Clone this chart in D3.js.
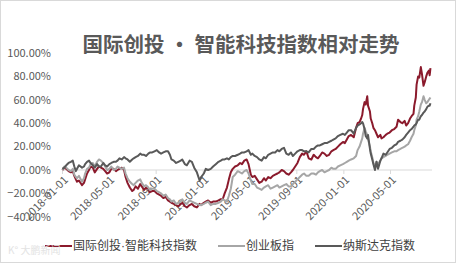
<!DOCTYPE html>
<html>
<head>
<meta charset="utf-8">
<script src="https://cdn.jsdelivr.net/npm/d3@7"></script>
<style>
  body { margin: 0; background: #fff; }
  text { font-family: "Noto Sans CJK SC", "Noto Sans", sans-serif; }
</style>
</head>
<body>
<div class="chartContainer"></div>
<script>
// Dates of the sampled points
const dates = [
  "2018-01-02","2018-01-07","2018-01-12","2018-01-18","2018-01-24","2018-01-29","2018-02-02","2018-02-06","2018-02-09","2018-02-14",
  "2018-02-22","2018-02-27","2018-03-02","2018-03-07","2018-03-12","2018-03-16","2018-03-22","2018-03-27","2018-04-02","2018-04-07",
  "2018-04-12","2018-04-18","2018-04-23","2018-04-28","2018-05-04","2018-05-09","2018-05-15","2018-05-21","2018-05-25","2018-05-30",
  "2018-06-05","2018-06-11","2018-06-15","2018-06-20","2018-06-26","2018-07-02","2018-07-06","2018-07-11","2018-07-17","2018-07-23",
  "2018-07-27","2018-08-02","2018-08-07","2018-08-13","2018-08-17","2018-08-23","2018-08-29","2018-09-04","2018-09-10","2018-09-15",
  "2018-09-21","2018-09-27","2018-10-03","2018-10-08","2018-10-12","2018-10-18","2018-10-24","2018-10-30","2018-11-05","2018-11-09",
  "2018-11-16","2018-11-21","2018-11-28","2018-12-04","2018-12-10","2018-12-17","2018-12-24","2018-12-28","2019-01-04","2019-01-09",
  "2019-01-15","2019-01-22","2019-01-28","2019-02-04","2019-02-11","2019-02-17","2019-02-22","2019-02-27","2019-03-05","2019-03-10",
  "2019-03-15","2019-03-20","2019-03-26","2019-04-02","2019-04-08","2019-04-13","2019-04-19","2019-04-25","2019-04-30","2019-05-06",
  "2019-05-10","2019-05-16","2019-05-22","2019-05-28","2019-06-03","2019-06-09","2019-06-14","2019-06-20","2019-06-26","2019-07-02",
  "2019-07-08","2019-07-14","2019-07-19","2019-07-25","2019-07-31","2019-08-06","2019-08-12","2019-08-18","2019-08-23","2019-08-29",
  "2019-09-04","2019-09-10","2019-09-16","2019-09-21","2019-09-27","2019-10-03","2019-10-10","2019-10-16","2019-10-22","2019-10-27",
  "2019-11-01","2019-11-07","2019-11-13","2019-11-19","2019-11-25","2019-12-01","2019-12-06","2019-12-12","2019-12-18","2019-12-24",
  "2019-12-31","2020-01-05","2020-01-10","2020-01-15","2020-01-21","2020-01-28","2020-02-03","2020-02-07","2020-02-12","2020-02-16",
  "2020-02-19","2020-02-21","2020-02-25","2020-02-28","2020-03-03","2020-03-05","2020-03-10","2020-03-12","2020-03-16","2020-03-19",
  "2020-03-23","2020-03-27","2020-03-31","2020-04-06","2020-04-09","2020-04-14","2020-04-20","2020-04-24","2020-04-30","2020-05-06",
  "2020-05-12","2020-05-18","2020-05-22","2020-05-28","2020-06-02","2020-06-08","2020-06-12","2020-06-17","2020-06-22","2020-06-26",
  "2020-07-01","2020-07-03","2020-07-07","2020-07-09","2020-07-13","2020-07-16","2020-07-20","2020-07-23","2020-07-27","2020-07-30",
  "2020-08-03","2020-08-06","2020-08-10","2020-08-12","2020-08-14"
];
// 国际创投·智能科技指数 (%)
const techIndex = [
  0, 2, 1, -1, -2, -1, -5, -8, -10, -9, -13, -11, -8, -3, 0, 3, 2, -2, 1, 3,
  2, 1, -1, -3, -2, 1, 1, -1, 0, 1, 2, 0, -6, -11, -15, -18, -17, -14, -16, -12,
  -14, -17, -15, -16, -19, -18, -18, -20, -21, -22, -24, -23, -26, -27, -28, -29, -30, -31, -29, -28,
  -31, -32, -30, -29, -31, -32, -29, -30, -28, -27, -26, -28, -27, -27, -26, -25, -25, -20, -15, -8,
  -2, 1, 3, 4, 6, 5, 8, 9, 5, -4, -6, -5, -8, -11, -10, -7, -9, -6, -7, -5,
  -4, -3, -2, 0, -1, -3, -4, -2, 0, 3, 6, 11, 14, 13, 16, 10, 9, 13, 11, 10,
  12, 15, 14, 12, 13, 16, 17, 18, 20, 22, 24, 23, 26, 29, 30, 28, 36, 40, 41, 44,
  47, 52, 58, 56, 63, 55, 50, 44, 40, 36, 34, 31, 28, 30, 27, 28, 30, 31, 32, 34,
  35, 37, 43, 41, 40, 42, 38, 40, 44, 46, 48, 55, 62, 73, 80, 79, 88, 82, 72, 75,
  80, 83, 85, 81, 87
];
// 创业板指 (%)
const chinext = [
  0, 3, 2, 0, -1, 1, -4, -6, -7, -5, -10, -7, -3, 1, 2, 5, 6, 3, 7, 9,
  8, 6, 3, 0, 1, 3, 0, 1, 3, 2, 1, 2, -3, -7, -10, -12, -13, -11, -9, -8,
  -11, -14, -13, -15, -17, -16, -16, -18, -19, -20, -22, -21, -24, -25, -27, -26, -29, -28, -27, -25,
  -28, -29, -26, -27, -28, -29, -30, -30, -29, -28, -27, -30, -29, -29, -28, -27, -25, -26, -27, -22,
  -16, -6, -4, -1, -2, -3, -1, 0, -3, -9, -12, -12, -15, -16, -17, -15, -14, -13, -16, -15,
  -14, -13, -15, -14, -13, -12, -14, -14, -12, -10, -8, -6, -4, -3, -5, -5, -3, -3, -4, -2,
  -1, 0, -2, -1, 0, 2, 1, 1, 3, 4, 5, 6, 7, 8, 9, 10, 12, 17, 20, 24,
  27, 31, 36, 33, 30, 26, 20, 16, 11, 6, 3, 7, 5, 8, 10, 11, 12, 13, 14, 15,
  16, 16, 17, 18, 19, 20, 21, 22, 25, 28, 31, 34, 38, 43, 46, 50, 56, 58, 63, 60,
  57, 58, 60, 61, 62
];
// 纳斯达克指数 (%)
const nasdaq = [
  1, 2, 4, 6, 7, 8, 3, -1, 1, 4, 2, 3, 5, 7, 8, 6, 4, 2, 5, 3,
  3, 6, 4, 3, 5, 6, 7, 7, 8, 10, 9, 11, 10, 9, 7, 9, 10, 11, 12, 14,
  13, 13, 12, 14, 15, 15, 16, 17, 15, 14, 15, 16, 16, 13, 9, 8, 6, 7, 8, 9,
  5, 4, 8, 7, 2, -2, -9, -6, -3, 1, 0, 1, 3, 5, 7, 8, 9, 9, 10, 9,
  11, 12, 12, 13, 14, 15, 15, 16, 17, 13, 14, 12, 11, 9, 8, 11, 10, 13, 14, 15,
  15, 17, 16, 18, 19, 14, 13, 15, 12, 14, 16, 17, 17, 16, 16, 15, 18, 18, 20, 21,
  21, 22, 23, 23, 24, 25, 26, 27, 29, 30, 31, 30, 32, 34, 34, 31, 36, 38, 39, 40,
  41, 40, 35, 29, 27, 30, 18, 14, 9, 5, 0, 7, 1, 8, 10, 14, 13, 15, 18, 19,
  21, 22, 24, 25, 26, 28, 30, 32, 34, 35, 37, 38, 39, 40, 43, 43, 46, 47, 49, 50,
  52, 54, 55, 55, 57
];
const seriesNames = ["国际创投·智能科技指数", "创业板指", "纳斯达克指数"];
const seriesColors = ["#8B1A2C", "#A6A6A6", "#595959"];
const yTicks = [-40, -20, 0, 20, 40, 60, 80, 100];
const xTicks = ["2018-01-01","2018-05-01","2018-09-01","2019-01-01","2019-05-01","2019-09-01","2020-01-01","2020-05-01"];

const parse = d3.timeParse("%Y-%m-%d");
const width = 457, height = 266;

const svg = d3.select(".chartContainer")
  .append("svg")
  .attr("width", width)
  .attr("height", height);

// Outer border
svg.append("rect")
  .attr("x", 0.5).attr("y", 0.5)
  .attr("width", 455).attr("height", 262)
  .attr("fill", "#fff")
  .attr("stroke", "#D9D9D9");

const x = d3.scaleTime()
  .domain([parse("2018-01-01"), parse("2020-08-18")])
  .range([62, 432]);
const y = d3.scaleLinear()
  .domain([-40, 100])
  .range([216.8, 53]);

// Title
svg.append("text")
  .attr("x", 241).attr("y", 52)
  .attr("text-anchor", "middle")
  .attr("font-size", 20.5)
  .attr("font-weight", "bold")
  .attr("fill", "#595959")
  .text("国际创投 · 智能科技指数相对走势");

// Y labels
svg.selectAll(".ylab")
  .data(yTicks)
  .enter()
  .append("text")
  .attr("class", "ylab")
  .attr("x", 51)
  .attr("y", d => y(d))
  .attr("dy", "0.35em")
  .attr("text-anchor", "end")
  .attr("font-size", 11)
  .attr("fill", "#595959")
  .text(d => d3.format(".2f")(d) + "%");

// X axis on the zero line
const xAxis = d3.axisBottom(x)
  .tickValues(xTicks.map(parse))
  .tickSize(4)
  .tickFormat("");
const gx = svg.append("g")
  .attr("transform", `translate(0,${y(0)})`)
  .call(xAxis);
gx.select(".domain").attr("stroke", "#D9D9D9").attr("d", "M62,0H432");
gx.selectAll(".tick line").attr("stroke", "#D9D9D9");

svg.selectAll(".xlab")
  .data(xTicks)
  .enter()
  .append("text")
  .attr("class", "xlab")
  .attr("transform", d => `translate(${x(parse(d)) + 4},${y(0) + 8}) rotate(-45)`)
  .attr("text-anchor", "end")
  .attr("dy", "0.35em")
  .attr("font-size", 11)
  .attr("fill", "#595959")
  .text(d => d);

// Lines
const line = d3.line()
  .x(d => x(d.date))
  .y(d => y(d.value));

[techIndex, chinext, nasdaq].forEach((vals, i) => {
  const pts = vals.map((v, j) => ({ date: parse(dates[j]), value: v }));
  svg.append("path")
    .datum(pts)
    .attr("fill", "none")
    .attr("stroke", seriesColors[i])
    .attr("stroke-width", 2)
    .attr("stroke-linejoin", "round")
    .attr("d", line);
});

// Legend
const legendX = [45, 218, 315];
const legend = svg.selectAll(".legend")
  .data(seriesNames)
  .enter()
  .append("g")
  .attr("class", "legend")
  .attr("transform", (d, i) => `translate(${legendX[i]},246)`);
legend.append("line")
  .attr("x1", 0).attr("x2", 27)
  .attr("stroke", (d, i) => seriesColors[i])
  .attr("stroke-width", 2);
legend.append("text")
  .attr("x", 28)
  .attr("dy", "0.35em")
  .attr("font-size", 12)
  .attr("fill", "#404040")
  .style("font-family", "'Liberation Sans', 'Noto Sans CJK SC', sans-serif")
  .text(d => d);

// Faint watermark
svg.append("text")
  .attr("x", 8).attr("y", 254)
  .attr("font-size", 10)
  .attr("fill", "#E3E3E3")
  .text("K° 大鹏新闻");
</script>
</body>
</html>
